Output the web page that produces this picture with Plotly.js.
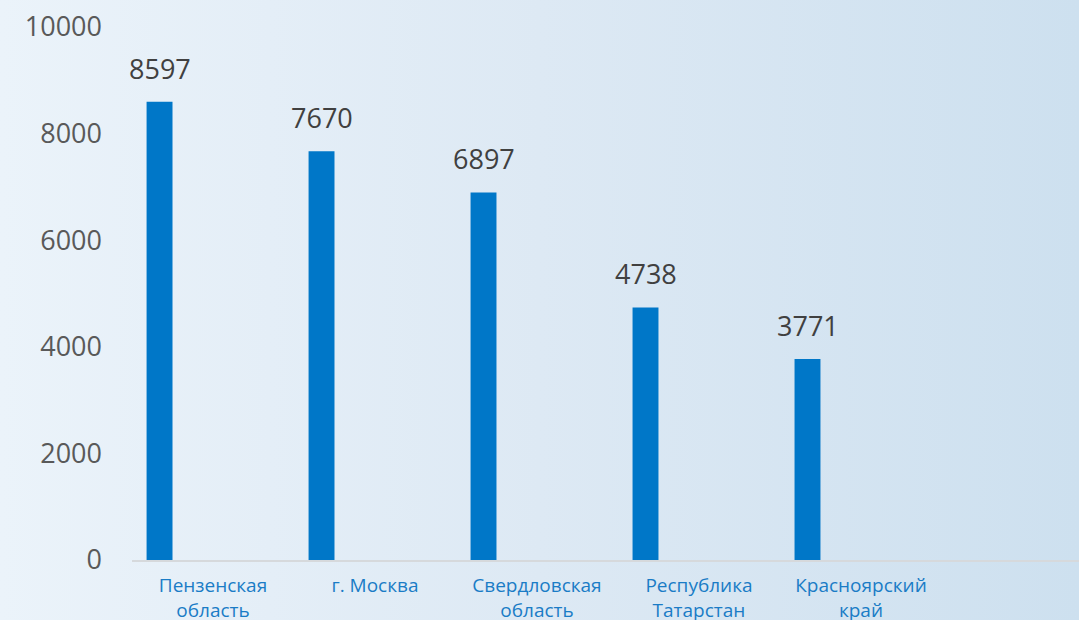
<!DOCTYPE html>
<html>
<head>
<meta charset="utf-8">
<script src="https://cdn.plot.ly/plotly-3.0.1.min.js"></script>
<style>
  html, body { margin: 0; padding: 0; }
  body { width: 1079px; height: 620px; overflow: hidden;
         background: linear-gradient(90deg, #ebf3fa 0%, #dde9f4 50%, #cde0ef 100%); }
  #chart { width: 1079px; height: 620px; }
</style>
</head>
<body>
<div id="chart"></div>
<script>
const categories = ["Пензенская<br>область", "г. Москва", "Свердловская<br>область", "Республика<br>Татарстан", "Красноярский<br>край"];
const values = [8597, 7670, 6897, 4738, 3771];
const yTicks = [0, 2000, 4000, 6000, 8000, 10000];

const barColor = "#0077c8";
const fontFam = "'Open Sans', 'Liberation Sans', sans-serif";

const trace = {
  type: "bar",
  x: categories,
  y: values,
  width: 0.16,
  offset: -0.41,
  marker: { color: barColor },
  hoverinfo: "skip"
};

const annotations = categories.map((c, i) => ({
  x: c, y: values[i], xref: "x", yref: "y",
  text: String(values[i]),
  showarrow: false, yanchor: "bottom", xanchor: "center",
  xshift: -53, yshift: 13,
  font: { family: fontFam, size: 27, color: "#404040" }
}));

const layout = {
  width: 1079, height: 620,
  margin: { l: 132, r: 0, t: 27, b: 60 },
  paper_bgcolor: "rgba(0,0,0,0)",
  plot_bgcolor: "rgba(0,0,0,0)",
  showlegend: false,
  xaxis: {
    type: "category",
    range: [-0.5, 5.346],
    showline: true, linecolor: "#d6d9dc", linewidth: 2,
    showgrid: false, zeroline: false, ticks: "",
    ticklabelstandoff: 7,
    tickfont: { family: fontFam, size: 19, color: "#1a7cc6" },
    automargin: false
  },
  yaxis: {
    range: [0, 10000],
    tickvals: yTicks,
    ticktext: yTicks.map(String),
    showgrid: false, zeroline: false, showline: false, ticks: "",
    ticklabelstandoff: 29,
    tickfont: { family: fontFam, size: 27, color: "#595959" },
    automargin: false
  },
  annotations: annotations
};

Plotly.newPlot("chart", [trace], layout, { staticPlot: true, displayModeBar: false });
</script>
</body>
</html>
